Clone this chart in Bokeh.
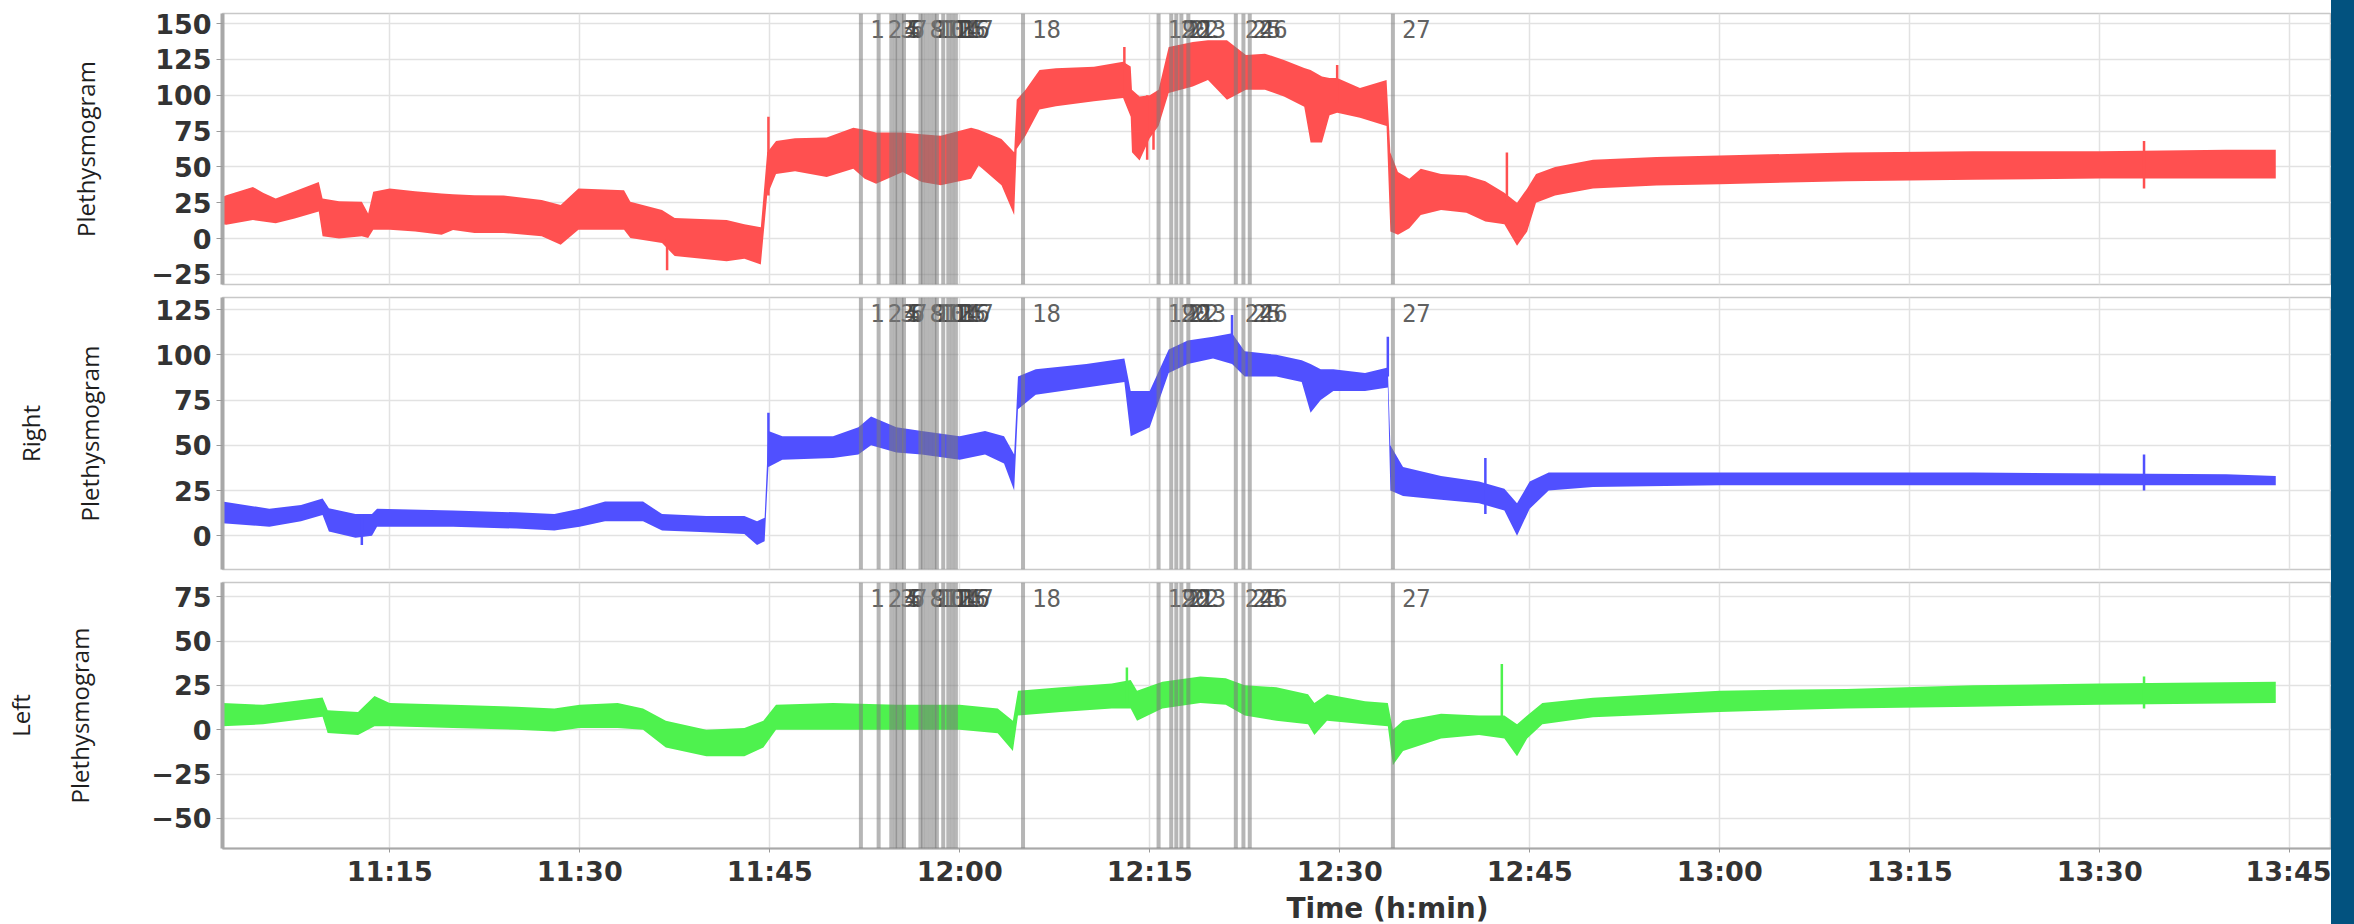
from bokeh.plotting import figure
from bokeh.models import Range1d, FixedTicker, Span, Title, Div, ColumnDataSource
from bokeh.layouts import column, row
from bokeh.core.properties import value
from bokeh.embed import file_html
from bokeh.resources import INLINE

# ---------------- data (time = minutes after 11:00) ----------------
red_t = [1.8, 2.1, 4.2, 5.0, 6.0, 7.5, 9.4, 9.7, 11.0, 12.8, 13.3, 13.7, 15.0, 17.0, 19.1, 20.0, 21.7, 24.0, 27.0, 28.5,
         29.9, 33.5, 34.0, 36.5, 37.5, 41.6, 43.0, 44.3, 44.8, 45.5, 47.0, 49.5, 51.6, 52.5, 53.4, 55.5, 57.0, 58.5, 60.9, 61.5,
         63.3, 64.3, 64.5, 65.2, 66.3, 67.6, 70.6, 72.9, 73.5, 73.6, 74.2, 75.0, 75.7, 76.5, 78.4, 79.6, 81.1, 82.6, 84.1, 85.6,
         87.2, 87.7, 88.6, 89.2, 89.8, 91.6, 93.7, 94.0, 94.6, 95.5, 96.4, 98.0, 100.0, 101.5, 103.0, 104.0, 104.8, 105.5, 107.0, 110.0,
         115.0, 120.0, 130.0, 140.0, 150.0, 160.0, 163.9]
red_lo = [10, 9.6, 13, 12, 10.8, 14, 18.9, 1.6, 0, 1.6, 0.4, 6.2, 6.2, 5, 2.7, 6, 3.9, 4, 1.6, -4.2,
          6.2, 6.2, 0.4, -3, -12.2, -15.7, -14, -18, 30, 45, 47, 43, 48.7, 41.8, 38.3, 46.4, 39.5, 37.2, 41.8, 51,
          37.2, 16.5, 62.5, 71.7, 90, 92.3, 95.8, 98.1, 85, 60.2, 54.4, 70, 78.6, 101.5, 106.1, 110.7, 96.9, 103.8, 103.8, 99.2,
          92, 67, 67, 86, 87.7, 84.3, 78.6, 5, 2.7, 7.3, 16.5, 20, 18, 12, 10, -5, 5, 25, 30, 35,
          37, 38, 40, 41, 42, 42, 42]
red_hi = [29, 30.3, 36, 32, 28, 33, 39.5, 28, 26, 25.7, 17.6, 32.6, 35, 33, 31.5, 31, 30.3, 30, 27, 23.4,
          35, 33.7, 25.7, 20, 14.3, 13, 10, 8, 60, 68, 70, 70.5, 77.4, 76, 74, 74, 72.8, 71.7, 77.4, 76,
          69.4, 60.2, 96.9, 103.8, 117.6, 118.8, 119.9, 123.4, 120, 103.8, 99.2, 100, 103.8, 133.7, 137.1, 138.3, 138.3, 128, 129, 124.5,
          119, 117.6, 113, 112, 112, 105, 110.7, 60, 46.4, 41.8, 48.7, 45, 44, 40, 32, 25, 35, 45, 50, 55,
          57, 58, 60, 61, 61, 62, 62]
red_spike_t = [36.9, 44.9, 73.0, 74.8, 75.3, 89.8, 103.2, 153.5]
red_spike_lo = [-22, 30, 100, 55, 62, 95, 25, 35]
red_spike_hi = [0, 85, 133.7, 100, 100, 121, 60, 68]

blue_t = [1.8, 5.5, 8.0, 9.7, 10.2, 12.3, 13.6, 14.0, 20.0, 25.0, 28.0, 30.0, 32.0, 35.0, 36.5, 40.0, 43.0, 44.0, 44.6, 44.9,
          46.0, 50.0, 52.0, 53.0, 55.0, 57.0, 60.0, 62.0, 63.5, 64.3, 64.6, 66.0, 70.0, 73.0, 73.5, 75.0, 76.5, 78.0, 80.0, 81.5,
          82.5, 85.0, 87.0, 87.7, 88.5, 89.5, 92.0, 93.8, 94.0, 95.0, 98.0, 101.0, 103.0, 104.0, 105.0, 106.5, 110.0, 120.0, 140.0, 160.0,
          163.9]
blue_lo = [7, 5, 8, 11.5, 2.4, -1, 0, 5, 5, 4, 3, 5, 8, 8, 3, 2, 1, -5, -3, 38,
           42, 43, 45, 50, 46, 45, 42, 45, 40, 25, 70, 78, 82, 85, 55, 60, 90, 95, 98, 95,
           88, 88, 85, 68, 75, 80, 80, 82, 25, 22, 20, 18, 14, 0, 15, 25, 27, 28, 28, 28,
           28]
blue_hi = [19, 15, 17, 20.6, 15.2, 12, 12, 15, 14, 13, 12, 15, 19, 19, 12, 11, 11, 8, 10, 58,
           55, 55, 60, 66, 60, 58, 55, 58, 55, 45, 88, 92, 95, 98, 80, 80, 103, 108, 110, 112,
           102, 100, 97, 95, 92, 92, 90, 93, 50, 38, 33, 30, 26, 18, 30, 35, 35, 35, 35, 34,
           33]
blue_spike_t = [12.8, 44.9, 81.5, 93.8, 101.5, 153.5]
blue_spike_lo = [-5, 40, 100, 88, 12, 25]
blue_spike_hi = [12, 68, 122, 110, 43, 45]

green_t = [1.8, 5.0, 9.7, 10.1, 12.5, 13.8, 15.0, 20.0, 25.0, 28.0, 30.0, 33.0, 35.0, 36.8, 40.0, 43.0, 44.5, 45.5, 50.0, 55.0,
           60.0, 63.0, 64.2, 64.6, 68.0, 72.0, 73.5, 74.0, 76.0, 79.0, 81.0, 82.5, 85.0, 87.5, 88.0, 89.0, 92.0, 93.8, 94.2, 95.0,
           98.0, 101.0, 103.0, 104.0, 104.8, 106.0, 110.0, 120.0, 130.0, 140.0, 150.0, 163.9]
green_lo = [2, 3, 7.3, -1.8, -3, 2, 2, 1, 0, -1, 1, 1, 0, -10, -15, -15, -10, 0, 0, 0,
            0, -2, -12, 8, 10, 12, 12, 5, 12, 15, 14, 8, 5, 3, -3, 5, 3, 2, -20, -12,
            -5, -3, -5, -15, -5, 3, 7, 10, 12, 13, 14, 15]
green_hi = [15, 14, 18.2, 11, 10, 19, 15, 14, 13, 12, 14, 15, 12, 5, 0, 1, 5, 14, 15, 14,
            14, 12, 5, 22, 24, 26, 28, 22, 27, 30, 29, 25, 24, 20, 15, 20, 16, 15, 0, 5,
            9, 8, 8, 3, 8, 15, 18, 22, 23, 25, 26, 27]
green_spike_t = [73.2, 102.8, 153.5]
green_spike_lo = [15, 5, 12]
green_spike_hi = [35, 37, 30]

event_t = [52.2, 53.6, 54.6, 54.9, 55.1, 55.4, 55.6, 56.9, 57.1, 57.4, 57.7, 58.0, 58.2, 58.7, 59.1, 59.4, 59.7,
           65.0, 75.7, 76.7, 77.1, 77.5, 78.05, 81.8, 82.4, 82.9, 94.2]
event_labels = ["1", "2", "3", "4", "5", "6", "7", "8", "9", "10", "11", "12", "13", "14", "15", "16", "17",
                "18", "19", "20", "21", "22", "23", "24", "25", "26", "27"]

x_tick_values = [15, 30, 45, 60, 75, 90, 105, 120, 135, 150, 165]
x_tick_labels = ["11:15", "11:30", "11:45", "12:00", "12:15", "12:30", "12:45", "13:00", "13:15", "13:30", "13:45"]

top_ticks = [-25, 0, 25, 50, 75, 100, 125, 150]
mid_ticks = [0, 25, 50, 75, 100, 125]
bot_ticks = [-50, -25, 0, 25, 50, 75]

# ---------------- layout ----------------
FIG_W = 2331
x_range = Range1d(1.8, 168.3)


def make_panel(t, lo, hi, st, slo, shi, color, ylabel, yr, yticks, h, top, bottom, standoff, show_x):
    p = figure(width=FIG_W, height=h, x_range=x_range, y_range=Range1d(*yr),
               output_backend="svg", toolbar_location=None,
               x_axis_location="below" if show_x else None,
               min_border_left=213, min_border_right=0,
               min_border_top=top, min_border_bottom=bottom)
    p.background_fill_color = "white"
    p.border_fill_color = "white"
    p.outline_line_color = "#c8c8c8"
    p.outline_line_width = 1.5

    src = ColumnDataSource(dict(t=t, lo=lo, hi=hi))
    p.varea(x="t", y1="lo", y2="hi", source=src, fill_color=color)
    p.segment(x0=st, y0=slo, x1=st, y1=shi, line_color=color, line_width=2.5)

    for et in event_t:
        p.add_layout(Span(location=et, dimension="height", line_color="#7a7a7a",
                          line_alpha=0.55, line_width=4))
    p.text(x=event_t, y=[yr[1]] * len(event_t), text=event_labels,
           text_font=value("DejaVu Sans Mono"), text_font_size="24px",
           text_color="#444444", text_alpha=0.85, text_baseline="top",
           text_align="left", x_offset=9, y_offset=6)

    p.xgrid.ticker = FixedTicker(ticks=x_tick_values)
    p.xgrid.grid_line_color = "#e2e2e2"
    p.xgrid.grid_line_width = 1.5
    p.ygrid.ticker = FixedTicker(ticks=yticks)
    p.ygrid.grid_line_color = "#e2e2e2"
    p.ygrid.grid_line_width = 1.5

    ya = p.yaxis[0]
    ya.ticker = FixedTicker(ticks=yticks)
    ya.axis_label = ylabel
    ya.axis_label_text_font = "Open Sans"
    ya.axis_label_text_font_size = "24px"
    ya.axis_label_text_font_style = "normal"
    ya.axis_label_text_color = "#1e1e1e"
    ya.axis_label_text_line_height = 1.8
    ya.axis_label_standoff = standoff
    ya.major_label_text_font = "DejaVu Sans"
    ya.major_label_text_font_style = "bold"
    ya.major_label_text_font_size = "27px"
    ya.major_label_text_color = "#333333"
    ya.axis_line_color = "#a8a8a8"
    ya.axis_line_width = 4
    ya.major_tick_line_color = "#9a9a9a"
    ya.major_tick_out = 6
    ya.major_tick_in = 0
    ya.minor_tick_line_color = None

    if show_x:
        xa = p.xaxis[0]
        xa.ticker = FixedTicker(ticks=x_tick_values)
        xa.major_label_overrides = dict(zip(x_tick_values, x_tick_labels))
        xa.major_label_text_font = "DejaVu Sans"
        xa.major_label_text_font_style = "bold"
        xa.major_label_text_font_size = "27px"
        xa.major_label_text_color = "#333333"
        xa.major_label_standoff = 3
        xa.axis_line_color = "#a8a8a8"
        xa.axis_line_width = 2
        xa.major_tick_line_color = "#9a9a9a"
        xa.major_tick_out = 4
        xa.major_tick_in = 0
        xa.minor_tick_line_color = None
        p.add_layout(Title(text="Time (h:min)", align="left", offset=1064, standoff=0,
                           text_font="DejaVu Sans", text_font_style="bold",
                           text_font_size="28px", text_color="#333333"), "below")
    return p


p1 = make_panel(red_t, red_lo, red_hi, red_spike_t, red_spike_lo, red_spike_hi, "#ff5050",
                "Plethysmogram", (-32, 157), top_ticks, 290, 13, 6, 46, False)
p2 = make_panel(blue_t, blue_lo, blue_hi, blue_spike_t, blue_spike_lo, blue_spike_hi, "#5050ff",
                "Right\nPlethysmogram", (-18.6, 131.7), mid_ticks, 285, 7, 6, 46, False)
p3 = make_panel(green_t, green_lo, green_hi, green_spike_t, green_spike_lo, green_spike_hi, "#4ef24e",
                "Left\nPlethysmogram", (-67, 83), bot_ticks, 349, 7, 71, 52, True)

bar = Div(text="", width=2354 - FIG_W, height=924, margin=0,
          styles={"background-color": "#02527f"})

layout = row(column(p1, p2, p3, spacing=0), bar, spacing=0)

open("out.html", "w").write(file_html(layout, INLINE))
